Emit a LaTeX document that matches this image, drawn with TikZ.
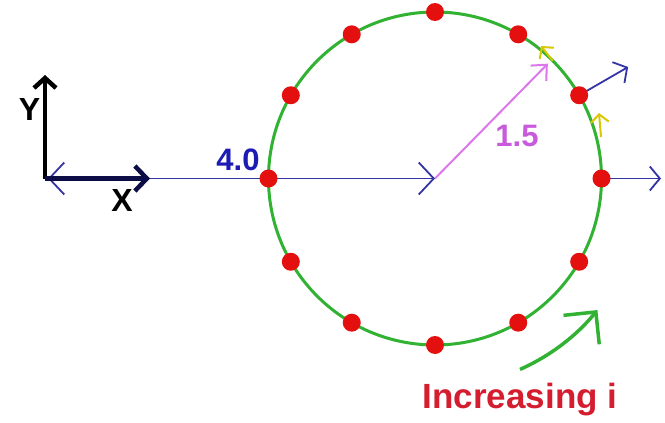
\documentclass[tikz,border=0pt]{standalone}
\usepackage{fontspec}
\setmainfont{Liberation Sans}
\usetikzlibrary{arrows.meta,calc}
\definecolor{circgreen}{RGB}{50,178,50}
\definecolor{dotred}{RGB}{228,16,16}
\definecolor{lineblue}{RGB}{52,52,165}
\definecolor{labelblue}{RGB}{28,28,180}
\definecolor{axisnavy}{RGB}{12,12,70}
\definecolor{radpink}{RGB}{220,120,235}
\definecolor{labelpink}{RGB}{200,90,220}
\definecolor{tanyellow}{RGB}{215,200,0}
\definecolor{textred}{RGB}{212,30,48}
\tikzset{
  circline/.style={draw=circgreen,line width=3pt},
  dotnode/.style={circle,fill=dotred,minimum size=18pt,inner sep=0pt},
  bigbarb/.style={-{Straight Barb[length=15pt,width=32pt]}},
  bluevec/.style={draw=lineblue,line width=1.8pt,-{Straight Barb[length=10pt,width=24pt]}},
  pinkvec/.style={draw=radpink,line width=2pt,-{Straight Barb[length=12pt,width=22pt]}},
  yellowvec/.style={draw=tanyellow,line width=2pt,-{Straight Barb[length=8pt,width=18pt]}},
  greenarrow/.style={draw=circgreen,line width=3.5pt,-{Straight Barb[length=23pt,width=46pt]}},
  axisline/.style={line width=4.5pt},
  lbl/.style={inner sep=0pt,anchor=base,font=\bfseries\fontsize{32}{32}\selectfont}
}
\begin{document}
\begin{tikzpicture}[x=1pt,y=1pt]
\useasboundingbox[fill=white] (0,-423) rectangle (665,0);
\coordinate (C) at (435,-178.5);
\def\R{166.5}
\foreach \a in {0,30,...,330} {\coordinate (P\a) at ($(C)+(\a:\R)$);}
% circle
\draw[circline] (C) circle[radius=\R];
% long blue distance line
\coordinate (L) at (48,-178.5);
\draw[draw=lineblue,line width=1.8pt,{Straight Barb[length=15pt,width=32pt]}-{Straight Barb[length=15pt,width=32pt]}] (L) -- (C);
% radial blue vectors
\coordinate (B0) at ($(C)+(0:226)$);
\coordinate (B30) at ($(C)+(30:223)$);
\draw[bluevec] (P0) -- (B0);
\draw[bluevec] (P30) -- (B30);
% pink radius
\coordinate (RT) at ($(C)+(45.5:161)$);
\draw[pinkvec] (C) -- (RT);
% yellow tangent vectors
\coordinate (T1s) at ($(C)+(45:\R)$);
\coordinate (T1e) at (541,-46);
\draw[yellowvec] (T1s) -- (T1e);
\coordinate (T2s) at (601,-137);
\coordinate (T2e) at (599,-113);
\draw[yellowvec] (T2s) -- (T2e);
% axes
\coordinate (O) at (45,-178.5);
\coordinate (YT) at (45,-75);
\coordinate (XT) at (150,-178.5);
\draw[axisline,black,-{Straight Barb[length=10pt,width=22pt]}] (O) -- (YT);
\draw[axisline,axisnavy,-{Straight Barb[length=12pt,width=25pt]}] (O) -- (XT);
% dots
\foreach \a in {0,30,...,330} {\node[dotnode] (D\a) at (P\a) {};}
% green arrow
\coordinate (GA) at ($(C)+(-66:209)$);
\draw[greenarrow] (GA) arc[start angle=-66,end angle=-39,radius=209];
% labels
\node[lbl] (ylab) at (29.5,-120) {Y};
\node[lbl] (xlab) at (122,-211) {X};
\node[lbl,text=labelblue,font=\bfseries\fontsize{31}{31}\selectfont] (dlab) at (238,-170) {4.0};
\node[lbl,text=labelpink,font=\bfseries\fontsize{31}{31}\selectfont] (rlab) at (517,-146) {1.5};
\node[lbl,text=textred,font=\bfseries\fontsize{35}{35}\selectfont] (ilab) at (520,-408) {Increasing i};
\end{tikzpicture}
\end{document}
